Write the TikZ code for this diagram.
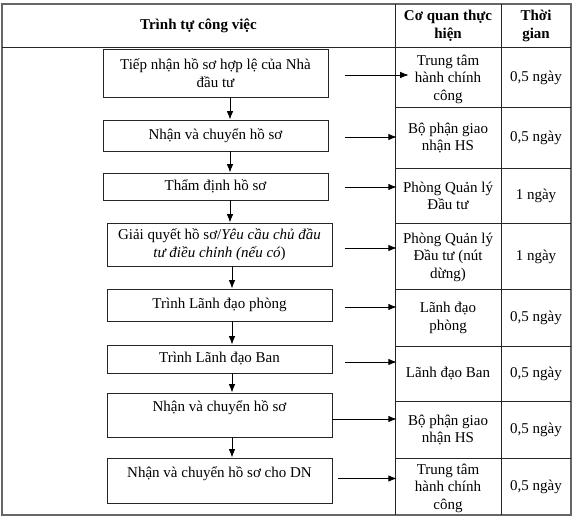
\documentclass[tikz,border=0pt]{standalone}
\usepackage{fontspec}
\setmainfont{Liberation Serif}
\usetikzlibrary{arrows.meta}
\begin{document}
\begin{tikzpicture}[x=1pt,y=-1pt,
  every node/.style={font=\fontsize{15}{17.5}\selectfont},
  stepbox/.style={draw=black!85,line width=0.8pt,minimum width=225pt,inner sep=0pt,align=center},
  cell/.style={align=center,inner sep=0pt},
  hdr/.style={align=center,inner sep=0pt,font=\fontsize{15}{17.5}\selectfont\bfseries},
  arr/.style={line width=0.9pt,-{Latex[length=8.5pt,width=6.5pt]}},
  tline/.style={line width=0.8pt,draw=black!85}]
\useasboundingbox (0,0) rectangle (575,520);
% table
\draw[line width=1.2pt,draw=black!60] (2,4) rectangle (571,515);
\draw[tline] (2,47) -- (571,47);
\draw[tline] (395,4) -- (395,515);
\draw[tline] (501,4) -- (501,515);
\foreach \yy in {107,168,223,289,346,401,458} \draw[tline] (395,\yy) -- (571,\yy);
% header
\node[hdr] (h1) at (198.5,25.5) {Trình tự công việc};
\node[hdr] (h2) at (448,26) {Cơ quan thực\\hiện};
\node[hdr] (h3) at (536,26) {Thời\\gian};
% column 2 and 3 cells
\node[cell] (c1) at (448,79) {Trung tâm\\hành chính\\công};
\node[cell] (c2) at (448,138) {Bộ phận giao\\nhận HS};
\node[cell] (c3) at (448,196) {Phòng Quản lý\\Đầu tư};
\node[cell] (c4) at (448,257) {Phòng Quản lý\\Đầu tư (nút\\dừng)};
\node[cell] (c5) at (448,318) {Lãnh đạo\\phòng};
\node[cell] (c6) at (448,374) {Lãnh đạo Ban};
\node[cell] (c7) at (448,430) {Bộ phận giao\\nhận HS};
\node[cell] (c8) at (448,488) {Trung tâm\\hành chính\\công};
\node[cell] (d1) at (536,78) {0,5 ngày};
\node[cell] (d2) at (536,138) {0,5 ngày};
\node[cell] (d3) at (536,196) {1 ngày};
\node[cell] (d4) at (536,257) {1 ngày};
\node[cell] (d5) at (536,318) {0,5 ngày};
\node[cell] (d6) at (536,374) {0,5 ngày};
\node[cell] (d7) at (536,430) {0,5 ngày};
\node[cell] (d8) at (536,487) {0,5 ngày};
% step boxes
\node[stepbox,minimum height=48pt] (b1) at (215.5,73) {Tiếp nhận hồ sơ hợp lệ của Nhà\\đầu tư};
\node[stepbox,minimum height=31pt] (b2) at (215.5,135.5) {Nhận và chuyển hồ sơ};
\node[stepbox,minimum height=27pt] (b3) at (215.5,186.5) {Thẩm định hồ sơ};
\node[stepbox,minimum height=43pt] (b4) at (219.5,244.5) {Giải quyết hồ sơ/\textit{Yêu cầu chủ đầu}\\\textit{tư điều chỉnh (nếu có}) };
\node[stepbox,minimum height=32pt] (b5) at (219.5,305) {Trình Lãnh đạo phòng};
\node[stepbox,minimum height=28pt] (b6) at (219.5,359) {Trình Lãnh đạo Ban};
\node[stepbox,minimum height=44pt] (b7) at (219.5,415) {Nhận và chuyển hồ sơ\\\mbox{}};
\node[stepbox,minimum height=45pt] (b8) at (219.5,480.5) {Nhận và chuyển hồ sơ cho DN\\\mbox{}};
% vertical arrows
\coordinate (ax) at (230,0);
\coordinate (bx) at (232,0);
\draw[arr] (b1.south -| ax) -- (b2.north -| ax);
\draw[arr] (b2.south -| ax) -- (b3.north -| ax);
\draw[arr] (b3.south -| ax) -- (b4.north -| ax);
\draw[arr] (b4.south -| bx) -- (b5.north -| bx);
\draw[arr] (b5.south -| bx) -- (b6.north -| bx);
\draw[arr] (b6.south -| bx) -- (b7.north -| bx);
\draw[arr] (b7.south -| bx) -- (b8.north -| bx);
% horizontal arrows
\draw[arr,shorten >=6pt] ([xshift=17pt,yshift=-2pt]b1.east) -- ([yshift=-2pt]b1.east -| c1.west);
\draw[arr,shorten >=6pt] ([xshift=17pt,yshift=-1.5pt]b2.east) -- ([yshift=-1.5pt]b2.east -| c3.west);
\draw[arr,shorten >=6pt] ([xshift=17pt,yshift=-0.5pt]b3.east) -- ([yshift=-0.5pt]b3.east -| c3.west);
\draw[arr,shorten >=6pt] ([xshift=13pt,yshift=-3.5pt]b4.east) -- ([yshift=-3.5pt]b4.east -| c3.west);
\draw[arr,shorten >=6pt] ([xshift=13pt,yshift=-2pt]b5.east) -- ([yshift=-2pt]b5.east -| c3.west);
\draw[arr,shorten >=6pt] ([xshift=13pt,yshift=-3pt]b6.east) -- ([yshift=-3pt]b6.east -| c3.west);
\draw[arr,shorten >=6pt] ([yshift=-4pt]b7.east) -- ([yshift=-4pt]b7.east -| c3.west);
\draw[arr,shorten >=6pt] ([xshift=6pt,yshift=2pt]b8.east) -- ([yshift=2pt]b8.east -| c3.west);
\end{tikzpicture}
\end{document}
